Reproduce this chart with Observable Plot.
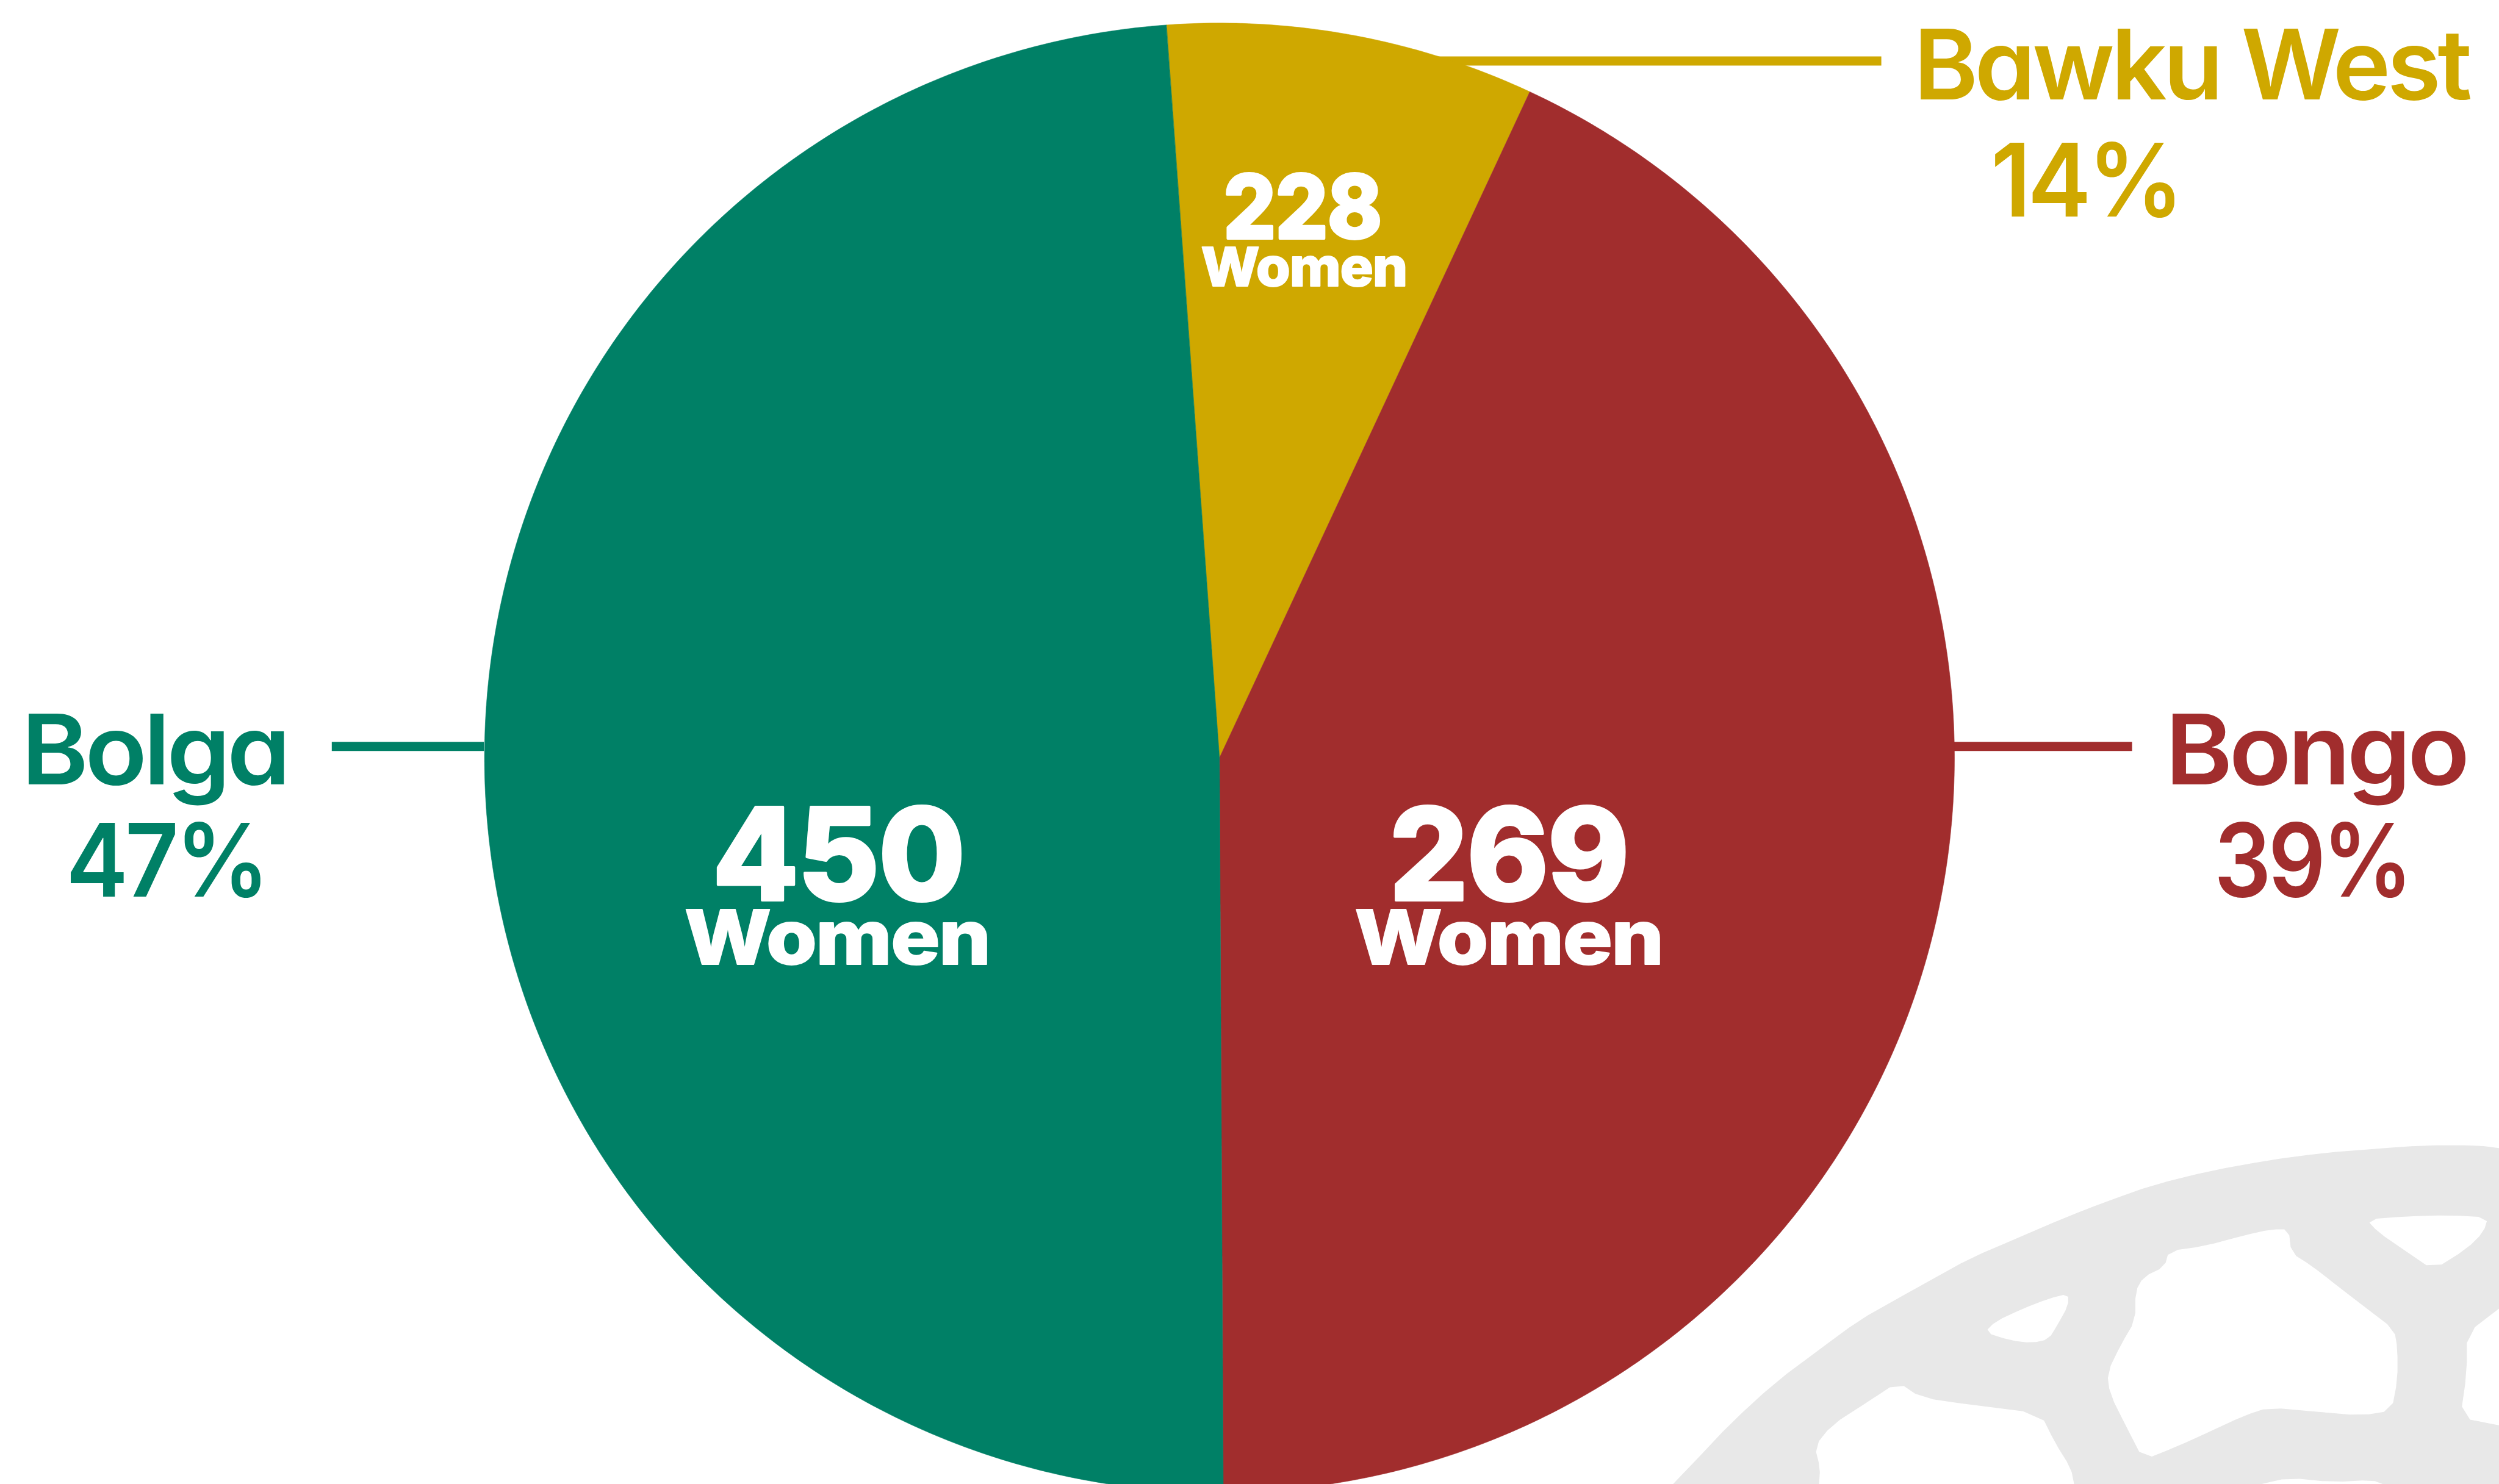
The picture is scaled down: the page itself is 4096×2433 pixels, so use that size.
<!DOCTYPE html>
<html>
<head>
<meta charset="utf-8">
<script src="https://cdn.jsdelivr.net/npm/d3@7"></script>
<script src="https://cdn.jsdelivr.net/npm/@observablehq/plot@0.6"></script>
<style>
html,body{margin:0;padding:0;background:#fff;overflow:hidden}
svg{display:block}
svg text{font-feature-settings:"cv11" 1}
.fit-name text,.fit-pct text{letter-spacing:-.035em}
.fit-count text{letter-spacing:-.01em;stroke-linejoin:round}
.fit-word text{letter-spacing:-.015em;stroke-linejoin:round}
</style>
</head>
<body>
<div id="chart"></div>
<script>
// --- Data ---
const districts = ["Bawku West", "Bongo", "Bolga"];
const women = [228, 269, 450];
const percents = [14, 39, 47];
// Share of the circle each slice actually covers in the picture (percent of 360 degrees)
const sliceShares = [8.09, 42.98, 48.93];
const districtColors = ["#CFA800", "#A12D2D", "#008066"];

// --- Layout, in the reference's 4614x2741 coordinates ---
const W = 4614, H = 2741, PX = 4096, PY = 2433;
const cx = 2251, cy = 1399, radius = 1357, startDeg = -4.15;
const nameX = [4045, 4275, 284], nameY = [183, 1448, 1448], nameLen = [1025, 556, 491];
const pctX = [3850, 4268, 306], pctY = [399, 1656, 1656], pctLen = [350, 361, 370];
const countX = [2404, 2785, 1547], countY = [440, 1662, 1662], countLen = [292, 441, 465];
const wordX = [2407, 2785, 1545], wordY = [528, 1781, 1781], wordLen = [380, 569, 564];
const countSize = [145, 210, 210], wordSize = [88, 124, 124];
const leaderX1 = [2600, 3607, 612], leaderX2 = [3473, 3936, 893], leaderY = [112, 1378, 1378];

// Grey globe watermark: outline and holes
const globeOutline = [[3088,2741],[3134,2693],[3196,2627],[3278,2552],[3360,2491],[3432,2438],[3494,2403],[3566,2363],[3638,2323],[3720,2288],[3813,2248],[3885,2220],[3978,2187],[4081,2162],[4184,2143],[4287,2129],[4390,2121],[4472,2115],[4575,2115],[4614,2120]];
const globeClosedHoles = [
  [[4369,2252],[4441,2246],[4523,2244],[4593,2248],[4585,2275],[4554,2306],[4492,2345],[4441,2310],[4390,2275]],
  [[3818,2389],[3818,2411],[3798,2447],[3782,2473],[3751,2480],[3710,2475],[3664,2460],[3684,2440],[3731,2418],[3782,2398]],
  [[4225,2270],[4230,2314],[4266,2336],[4317,2376],[4369,2416],[4420,2455],[4426,2491],[4426,2548],[4415,2605],[4359,2614],[4276,2607],[4189,2599],[4143,2614],[4081,2643],[4019,2671],[3957,2696],[3926,2636],[3895,2574],[3890,2535],[3916,2482],[3942,2438],[3942,2385],[3957,2358],[3996,2339],[4004,2310],[4070,2301],[4143,2281],[4194,2270]]
];
const globeEdgeHoles = [
  [[3358,2741],[3360,2711],[3350,2671],[3381,2632],[3443,2592],[3504,2552],[3546,2581],[3638,2594],[3767,2610],[3793,2663],[3823,2711],[3829,2741]],
  [[4614,2416],[4554,2462],[4554,2535],[4542,2618],[4614,2632]],
  [[4173,2741],[4225,2729],[4307,2737],[4379,2733],[4400,2741]]
];

// --- Derived tables ---
// Corner rounding of the traced watermark (it has soft corners in the picture)
const cut = (a, b) => [[a[0] * .75 + b[0] * .25, a[1] * .75 + b[1] * .25], [a[0] * .25 + b[0] * .75, a[1] * .25 + b[1] * .75]];
const smoothClosed = (r) => r.flatMap((p, i) => cut(p, r[(i + 1) % r.length]));
const smoothOpen = (r) => [r[0], ...r.slice(0, -1).flatMap((p, i) => cut(p, r[i + 1])), r[r.length - 1]];
const closeRing = (r) => [...r, r[0]];
const globe = {type: "Polygon", coordinates: [
  [...smoothOpen(globeOutline), [4614, 2741]],
  ...globeClosedHoles.map(smoothClosed),
  ...globeEdgeHoles.map(smoothOpen)
].map(closeRing)};

const toRad = Math.PI / 180;
const arcs = d3.pie().sort(null)
  .startAngle(startDeg * toRad)
  .endAngle((startDeg + 360) * toRad)(sliceShares);
const slices = arcs.map((a, i) => {
  const ring = [[cx, cy]];
  const steps = Math.ceil((a.endAngle - a.startAngle) / toRad * 2);
  for (let s = 0; s <= steps; ++s) {
    const t = a.startAngle + (a.endAngle - a.startAngle) * s / steps;
    ring.push([cx + radius * Math.sin(t), cy - radius * Math.cos(t)]);
  }
  ring.push([cx, cy]);
  return {type: "Feature", properties: {district: districts[i]}, geometry: {type: "Polygon", coordinates: [ring]}};
});

const rows = districts.map((district, i) => ({
  district, i,
  pct: `${percents[i]}%`, count: String(women[i])
}));

const labelFont = "Inter, Lato, sans-serif";
const base = {textAnchor: "middle", lineAnchor: "bottom", fontFamily: labelFont};

const svg = Plot.plot({
  width: PX, height: PY,
  margin: 0,
  style: {background: "#fff", fillRule: "evenodd"},
  x: {domain: [0, W], range: [0, PX], axis: null},
  y: {domain: [0, H], range: [0, PY], axis: null},
  color: {domain: districts, range: districtColors},
  marks: [
    Plot.geo([globe], {fill: "#E8E8E8"}),
    Plot.link(rows, {
      x1: (d) => leaderX1[d.i], x2: (d) => leaderX2[d.i],
      y1: (d) => leaderY[d.i], y2: (d) => leaderY[d.i],
      stroke: "district", strokeWidth: 15
    }),
    Plot.geo(slices, {
      fill: (d) => d.properties.district,
      stroke: (d) => d.properties.district,
      strokeWidth: 0.6
    }),
    Plot.text(rows, {...base, className: "fit-name", text: "district",
      x: (d) => nameX[d.i], y: (d) => nameY[d.i],
      fill: "district", fontSize: 160, fontWeight: 600}),
    Plot.text(rows, {...base, className: "fit-pct", text: "pct",
      x: (d) => pctX[d.i], y: (d) => pctY[d.i],
      fill: "district", fontSize: 167, fontWeight: 600}),
    Plot.text(rows, {...base, className: "fit-count", text: "count",
      x: (d) => countX[d.i], y: (d) => countY[d.i],
      fill: "#fff", stroke: "#fff", strokeWidth: 4, fontSize: (d) => countSize[d.i], fontWeight: 800}),
    Plot.text(rows, {...base, className: "fit-word", text: () => "Women",
      x: (d) => wordX[d.i], y: (d) => wordY[d.i],
      fill: "#fff", stroke: "#fff", strokeWidth: 2, fontSize: (d) => wordSize[d.i], fontWeight: 800})
  ]
});

// Fit each label to the width measured in the reference
const fit = (cls, lens) => {
  svg.querySelectorAll(`.${cls} text`).forEach((t, i) => {
    t.setAttribute("textLength", lens[i] * PX / W);
    t.setAttribute("lengthAdjust", "spacingAndGlyphs");
  });
};
fit("fit-name", nameLen);
fit("fit-pct", pctLen);
fit("fit-count", countLen);
fit("fit-word", wordLen);

document.getElementById("chart").append(svg);
</script>
</body>
</html>
